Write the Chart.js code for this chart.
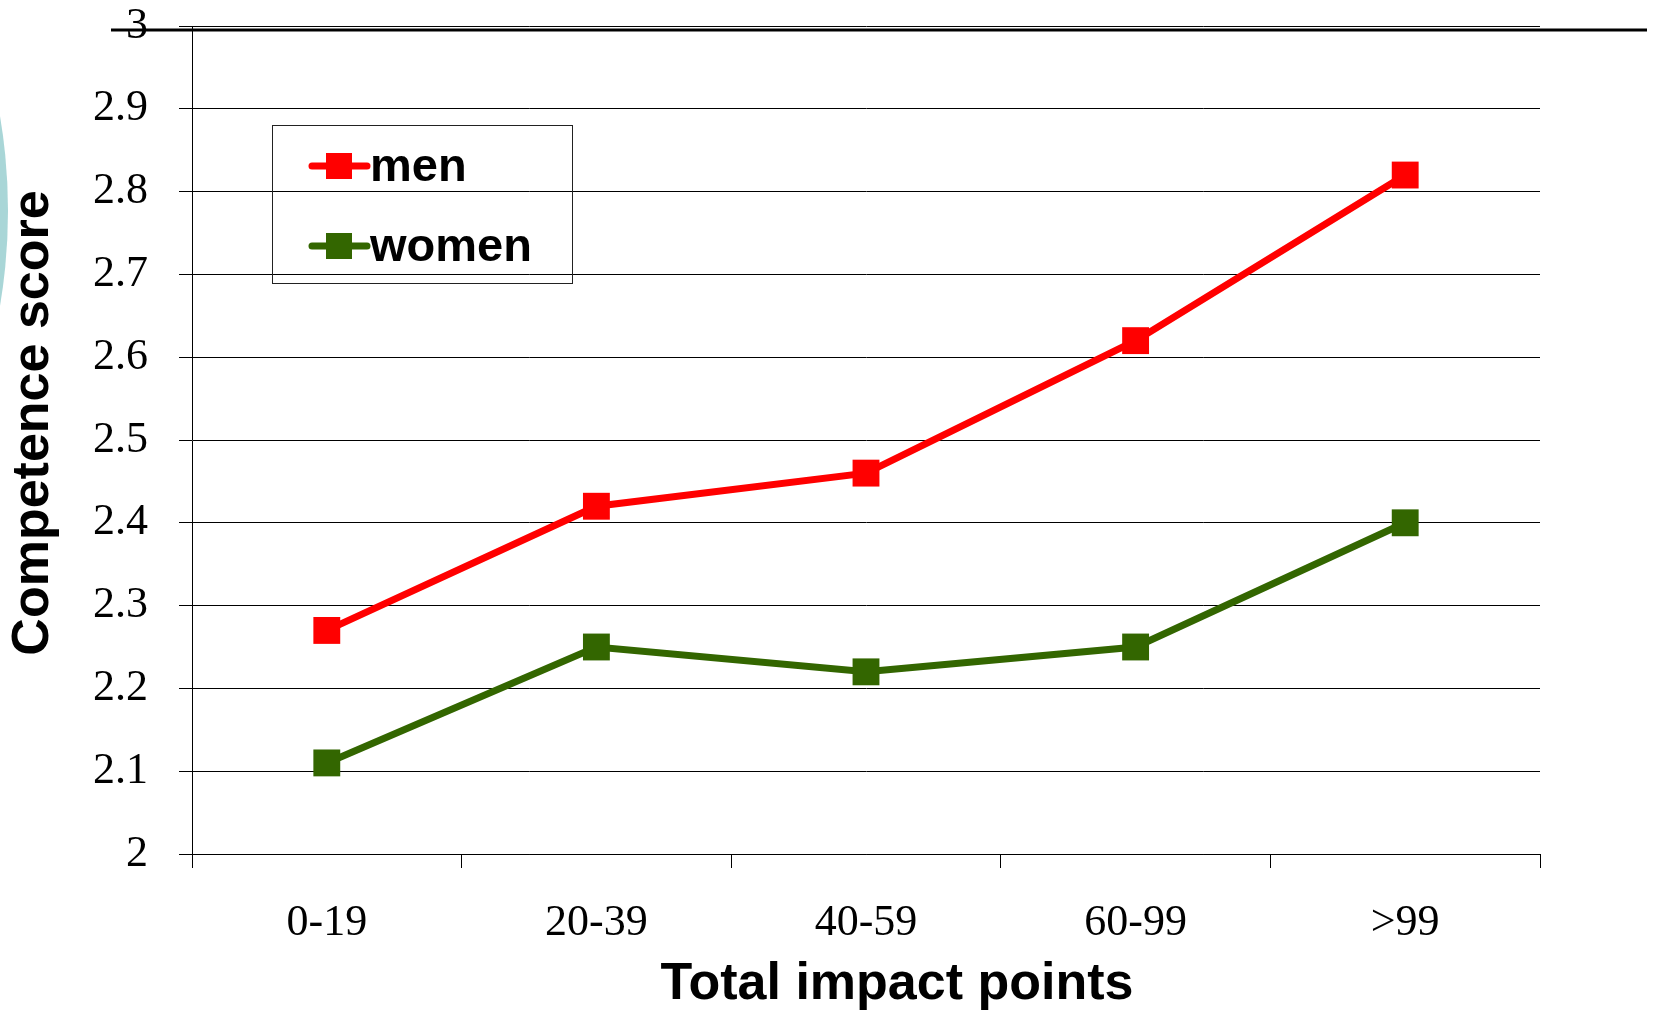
<!DOCTYPE html>
<html>
<head>
<meta charset="utf-8">
<script src="https://cdn.jsdelivr.net/npm/chart.js@4"></script>
<style>
  html, body { margin: 0; padding: 0; background: #fff; }
  canvas { display: block; }
</style>
</head>
<body>
<canvas id="grafica" width="1655" height="1010"></canvas>
<script>
const categorias = ['0-19', '20-39', '40-59', '60-99', '>99'];
const hombres = [2.27, 2.42, 2.46, 2.62, 2.82];
const mujeres = [2.11, 2.25, 2.22, 2.25, 2.40];
const series = ['men', 'women'];
const colores = ['#ff0000', '#336600'];
const ejeY = { min: 2, max: 3, paso: 0.1 };
const tituloX = 'Total impact points';
const tituloY = 'Competence score';

// decoration of the slide + axis titles + boxed legend
const extras = {
    id: 'extras',
    beforeDraw(chart) {
        const ctx = chart.ctx;
        ctx.save();
        ctx.fillStyle = '#a9d6d7';
        ctx.beginPath();
        ctx.arc(-560, 211, 568, 0, Math.PI * 2);
        ctx.fill();
        ctx.restore();
    },
    afterDraw(chart) {
        const ctx = chart.ctx;
        ctx.save();

        // top separator line of the slide
        ctx.strokeStyle = '#000';
        ctx.lineWidth = 3;
        ctx.beginPath();
        ctx.moveTo(111, 30);
        ctx.lineTo(1647, 30);
        ctx.stroke();

        // titles
        ctx.fillStyle = '#000';
        ctx.font = 'bold 52px "Liberation Sans", Arial, sans-serif';
        ctx.textAlign = 'center';
        ctx.textBaseline = 'middle';
        ctx.fillText(tituloX, 897, 985);
        ctx.font = 'bold 52px "Liberation Sans", Arial, sans-serif';
        ctx.translate(34, 423);
        ctx.rotate(-Math.PI / 2);
        ctx.fillText(tituloY, 0, 0);
        ctx.setTransform(1, 0, 0, 1, 0, 0);

        // legend
        ctx.strokeStyle = '#222';
        ctx.lineWidth = 1;
        ctx.strokeRect(272.5, 125.5, 300, 158);
        ctx.font = 'bold 47px "Liberation Sans", Arial, sans-serif';
        ctx.textAlign = 'left';
        chart.data.datasets.forEach(function(ds, i) {
            const y = 166 + i * 80;
            ctx.strokeStyle = ds.borderColor;
            ctx.lineWidth = 7;
            ctx.lineCap = 'round';
            ctx.beginPath();
            ctx.moveTo(312, y);
            ctx.lineTo(367, y);
            ctx.stroke();
            ctx.fillStyle = ds.borderColor;
            ctx.fillRect(326, y - 13, 26, 26);
            ctx.fillStyle = '#000';
            ctx.fillText(ds.label, 370, y + 2);
        });
        ctx.restore();
    }
};

const data = {
    labels: categorias,
    datasets: [{
        label: series[0],
        data: hombres,
        borderColor: colores[0],
        backgroundColor: colores[0],
        borderWidth: 7,
        pointStyle: 'rect',
        pointRadius: 19,
        pointBorderWidth: 0,
        tension: 0
    }, {
        label: series[1],
        data: mujeres,
        borderColor: colores[1],
        backgroundColor: colores[1],
        borderWidth: 7,
        pointStyle: 'rect',
        pointRadius: 19,
        pointBorderWidth: 0,
        tension: 0
    }]
};

const config = {
    type: 'line',
    data: data,
    plugins: [extras],
    options: {
        responsive: false,
        animation: false,
        layout: {
            padding: { left: 0, top: 26, right: 115, bottom: 0 }
        },
        plugins: {
            legend: { display: false },
            tooltip: { enabled: false }
        },
        scales: {
            x: {
                offset: true,
                afterFit: function(scale) {
                    scale.height = 156;
                    scale.paddingLeft = 0;
                    scale.paddingRight = 0;
                },
                grid: {
                    offset: true,
                    drawOnChartArea: false,
                    tickLength: 14,
                    color: '#000'
                },
                border: { color: '#000', width: 1 },
                ticks: {
                    padding: 29,
                    color: '#000',
                    font: { family: '"Liberation Serif", "Times New Roman", serif', size: 44 }
                }
            },
            y: {
                min: ejeY.min,
                max: ejeY.max,
                afterFit: function(scale) {
                    scale.width = 192;
                    scale.paddingTop = 0;
                    scale.paddingBottom = 0;
                },
                grid: {
                    color: '#000',
                    tickLength: 13
                },
                border: { color: '#000', width: 1 },
                ticks: {
                    stepSize: ejeY.paso,
                    padding: 31,
                    color: '#000',
                    font: { family: '"Liberation Serif", "Times New Roman", serif', size: 44 },
                    callback: function(value) {
                        return String(+value.toFixed(1));
                    }
                }
            }
        }
    }
};

const ctx = document.getElementById('grafica');
const grafica = new Chart(ctx, config);
</script>
</body>
</html>
